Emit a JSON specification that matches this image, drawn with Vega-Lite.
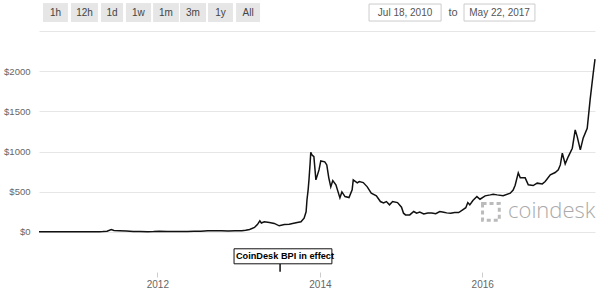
{
  "$schema": "https://vega.github.io/schema/vega-lite/v6.json",
  "width": 556,
  "height": 272,
  "autosize": "none",
  "padding": {"left": 39, "right": 4, "top": 0, "bottom": 21},
  "background": "white",
  "config": {"view": {"stroke": null}, "font": "Liberation Sans"},
  "datasets": {
    "price": [
      {"date": "2010-07-18", "price": 0.09},
      {"date": "2010-08-15", "price": 0.07},
      {"date": "2010-09-15", "price": 0.06},
      {"date": "2010-10-15", "price": 0.1},
      {"date": "2010-11-08", "price": 0.3},
      {"date": "2010-12-15", "price": 0.25},
      {"date": "2011-01-15", "price": 0.4},
      {"date": "2011-02-10", "price": 1.0},
      {"date": "2011-03-15", "price": 0.9},
      {"date": "2011-04-15", "price": 1.0},
      {"date": "2011-05-01", "price": 3.0},
      {"date": "2011-05-20", "price": 7},
      {"date": "2011-06-08", "price": 28},
      {"date": "2011-06-20", "price": 17},
      {"date": "2011-07-15", "price": 14},
      {"date": "2011-08-15", "price": 11},
      {"date": "2011-09-15", "price": 5},
      {"date": "2011-10-15", "price": 4},
      {"date": "2011-11-18", "price": 2.3},
      {"date": "2011-12-15", "price": 3.2},
      {"date": "2012-01-10", "price": 7},
      {"date": "2012-02-15", "price": 5},
      {"date": "2012-03-15", "price": 5},
      {"date": "2012-04-15", "price": 5},
      {"date": "2012-05-15", "price": 5},
      {"date": "2012-06-15", "price": 6.5},
      {"date": "2012-07-15", "price": 8.5},
      {"date": "2012-08-15", "price": 12},
      {"date": "2012-09-15", "price": 12},
      {"date": "2012-10-15", "price": 12},
      {"date": "2012-11-15", "price": 11},
      {"date": "2012-12-15", "price": 13.5},
      {"date": "2013-01-15", "price": 15},
      {"date": "2013-02-01", "price": 20},
      {"date": "2013-02-19", "price": 30},
      {"date": "2013-03-13", "price": 55},
      {"date": "2013-03-26", "price": 90},
      {"date": "2013-04-06", "price": 137},
      {"date": "2013-04-13", "price": 110},
      {"date": "2013-04-26", "price": 124},
      {"date": "2013-05-19", "price": 115},
      {"date": "2013-06-10", "price": 105},
      {"date": "2013-07-02", "price": 75},
      {"date": "2013-07-25", "price": 90},
      {"date": "2013-08-16", "price": 95},
      {"date": "2013-09-21", "price": 115},
      {"date": "2013-10-08", "price": 125},
      {"date": "2013-10-22", "price": 170},
      {"date": "2013-10-31", "price": 250},
      {"date": "2013-11-04", "price": 400},
      {"date": "2013-11-09", "price": 520},
      {"date": "2013-11-13", "price": 650},
      {"date": "2013-11-18", "price": 850},
      {"date": "2013-11-21", "price": 990},
      {"date": "2013-11-26", "price": 960},
      {"date": "2013-12-05", "price": 936},
      {"date": "2013-12-14", "price": 647},
      {"date": "2013-12-28", "price": 771},
      {"date": "2014-01-05", "price": 883},
      {"date": "2014-01-23", "price": 871},
      {"date": "2014-02-01", "price": 833},
      {"date": "2014-02-10", "price": 672},
      {"date": "2014-02-19", "price": 560},
      {"date": "2014-02-28", "price": 638},
      {"date": "2014-03-14", "price": 585},
      {"date": "2014-04-01", "price": 423},
      {"date": "2014-04-10", "price": 497},
      {"date": "2014-04-24", "price": 439},
      {"date": "2014-05-12", "price": 427},
      {"date": "2014-05-26", "price": 522},
      {"date": "2014-05-31", "price": 647},
      {"date": "2014-06-18", "price": 609},
      {"date": "2014-06-27", "price": 626},
      {"date": "2014-07-15", "price": 613},
      {"date": "2014-08-02", "price": 560},
      {"date": "2014-08-20", "price": 481},
      {"date": "2014-09-12", "price": 448},
      {"date": "2014-09-30", "price": 377},
      {"date": "2014-10-14", "price": 361},
      {"date": "2014-10-27", "price": 377},
      {"date": "2014-11-10", "price": 336},
      {"date": "2014-11-24", "price": 377},
      {"date": "2014-12-16", "price": 364},
      {"date": "2015-01-03", "price": 307},
      {"date": "2015-01-12", "price": 232},
      {"date": "2015-01-21", "price": 211},
      {"date": "2015-02-09", "price": 211},
      {"date": "2015-02-27", "price": 253},
      {"date": "2015-03-12", "price": 232},
      {"date": "2015-03-26", "price": 245},
      {"date": "2015-04-13", "price": 222},
      {"date": "2015-05-01", "price": 235},
      {"date": "2015-05-19", "price": 235},
      {"date": "2015-06-06", "price": 225},
      {"date": "2015-06-24", "price": 253},
      {"date": "2015-07-12", "price": 245},
      {"date": "2015-07-25", "price": 236},
      {"date": "2015-08-12", "price": 230},
      {"date": "2015-08-30", "price": 240},
      {"date": "2015-09-17", "price": 240},
      {"date": "2015-10-05", "price": 274},
      {"date": "2015-10-19", "price": 300},
      {"date": "2015-10-28", "price": 364},
      {"date": "2015-11-06", "price": 336},
      {"date": "2015-11-20", "price": 390},
      {"date": "2015-12-08", "price": 439},
      {"date": "2015-12-22", "price": 406},
      {"date": "2016-01-14", "price": 448},
      {"date": "2016-02-06", "price": 460},
      {"date": "2016-02-19", "price": 469},
      {"date": "2016-03-08", "price": 460},
      {"date": "2016-04-04", "price": 450},
      {"date": "2016-05-06", "price": 481},
      {"date": "2016-05-19", "price": 520},
      {"date": "2016-05-28", "price": 580},
      {"date": "2016-06-11", "price": 734},
      {"date": "2016-06-20", "price": 672},
      {"date": "2016-07-12", "price": 672},
      {"date": "2016-07-26", "price": 585},
      {"date": "2016-08-17", "price": 576},
      {"date": "2016-09-04", "price": 606},
      {"date": "2016-09-27", "price": 597},
      {"date": "2016-10-10", "price": 626},
      {"date": "2016-11-02", "price": 709},
      {"date": "2016-11-24", "price": 738},
      {"date": "2016-12-08", "price": 771},
      {"date": "2016-12-17", "price": 833},
      {"date": "2016-12-26", "price": 979},
      {"date": "2017-01-08", "price": 846},
      {"date": "2017-01-22", "price": 937},
      {"date": "2017-02-09", "price": 1041},
      {"date": "2017-02-22", "price": 1269},
      {"date": "2017-03-03", "price": 1185},
      {"date": "2017-03-17", "price": 1020},
      {"date": "2017-03-30", "price": 1169},
      {"date": "2017-04-17", "price": 1290},
      {"date": "2017-04-30", "price": 1642},
      {"date": "2017-05-14", "price": 1974},
      {"date": "2017-05-22", "price": 2150}
    ],
    "buttons": [
      {"label": "1h", "start": "2010-08-05", "end": "2010-11-25", "mid": "2010-09-30"},
      {"label": "12h", "start": "2010-12-09", "end": "2011-04-09", "mid": "2011-02-08"},
      {"label": "1d", "start": "2011-04-23", "end": "2011-07-31", "mid": "2011-06-11"},
      {"label": "1w", "start": "2011-08-13", "end": "2011-12-04", "mid": "2011-10-08"},
      {"label": "1m", "start": "2011-12-13", "end": "2012-04-07", "mid": "2012-02-09"},
      {"label": "3m", "start": "2012-04-12", "end": "2012-08-07", "mid": "2012-06-09"},
      {"label": "1y", "start": "2012-08-16", "end": "2012-12-06", "mid": "2012-10-11"},
      {"label": "All", "start": "2012-12-20", "end": "2013-04-07", "mid": "2013-02-12"}
    ],
    "inputs": [
      {"label": "Jul 18, 2010", "start": "2014-08-10", "end": "2015-06-30", "mid": "2015-01-19"},
      {"label": "May 22, 2017", "start": "2015-10-11", "end": "2016-08-25", "mid": "2016-03-19"}
    ],
    "words": [
      {"label": "to", "mid": "2015-08-23"}
    ],
    "flag": [
      {"label": "CoinDesk BPI in effect", "start": "2012-12-11", "end": "2014-02-24", "mid": "2013-07-28", "stem": "2013-07-06"}
    ],
    "brand": [
      {"label": "coindesk", "textStart": "2016-04-26", "icon": "2016-02-09"}
    ]
  },
  "layer": [
    {
      "data": {"name": "price"},
      "mark": {"type": "line", "color": "#111111", "strokeWidth": 1.5, "interpolate": "linear"},
      "encoding": {
        "x": {
          "field": "date", "type": "temporal",
          "scale": {"type": "utc", "domain": [{"year": 2010, "month": 7, "date": 18, "utc": true}, {"year": 2017, "month": 5, "date": 22, "utc": true}]},
          "axis": {
            "title": null, "domain": false, "grid": false, "format": "%Y",
            "values": [{"year": 2012, "month": 1, "date": 1, "utc": true}, {"year": 2014, "month": 1, "date": 1, "utc": true}, {"year": 2016, "month": 1, "date": 1, "utc": true}],
            "tickColor": "#cccccc", "tickSize": 5, "labelColor": "#666666", "labelFontSize": 10, "labelPadding": 2
          }
        },
        "y": {
          "field": "price", "type": "quantitative",
          "scale": {"domain": [-500, 2886], "nice": false, "zero": false},
          "axis": {
            "title": null, "domain": false, "ticks": false,
            "values": [0, 500, 1000, 1500, 2000, 2500],
            "labelExpr": "datum.value > 2000 ? '' : '$' + datum.value",
            "gridColor": "#e6e6e6", "labelColor": "#666666", "labelFontSize": 9.5, "labelPadding": 9
          }
        }
      }
    },
    {
      "data": {"name": "buttons"},
      "mark": {"type": "rect", "fill": "#e6e6e6"},
      "encoding": {
        "x": {"field": "start", "type": "temporal"},
        "x2": {"field": "end"},
        "y": {"datum": 2848, "type": "quantitative"},
        "y2": {"datum": 2612}
      }
    },
    {
      "data": {"name": "buttons"},
      "mark": {"type": "text", "fontSize": 10, "color": "#444444", "baseline": "middle", "align": "center"},
      "encoding": {
        "x": {"field": "mid", "type": "temporal"},
        "y": {"datum": 2724, "type": "quantitative"},
        "text": {"field": "label"}
      }
    },
    {
      "data": {"name": "inputs"},
      "mark": {"type": "rect", "fill": "white", "stroke": "#cccccc", "strokeWidth": 1},
      "encoding": {
        "x": {"field": "start", "type": "temporal"},
        "x2": {"field": "end"},
        "y": {"datum": 2836, "type": "quantitative"},
        "y2": {"datum": 2624}
      }
    },
    {
      "data": {"name": "inputs"},
      "mark": {"type": "text", "fontSize": 10, "color": "#555555", "baseline": "middle", "align": "center"},
      "encoding": {
        "x": {"field": "mid", "type": "temporal"},
        "y": {"datum": 2730, "type": "quantitative"},
        "text": {"field": "label"}
      }
    },
    {
      "data": {"name": "words"},
      "mark": {"type": "text", "fontSize": 11, "color": "#555555", "baseline": "middle", "align": "center"},
      "encoding": {
        "x": {"field": "mid", "type": "temporal"},
        "y": {"datum": 2730, "type": "quantitative"},
        "text": {"field": "label"}
      }
    },
    {
      "data": {"name": "flag"},
      "mark": {"type": "rule", "color": "#111111", "strokeWidth": 1.5},
      "encoding": {
        "x": {"field": "stem", "type": "temporal"},
        "y": {"datum": -398, "type": "quantitative"},
        "y2": {"datum": -497}
      }
    },
    {
      "data": {"name": "flag"},
      "mark": {"type": "rect", "fill": "white", "stroke": "#111111", "strokeWidth": 1},
      "encoding": {
        "x": {"field": "start", "type": "temporal"},
        "x2": {"field": "end"},
        "y": {"datum": -211, "type": "quantitative"},
        "y2": {"datum": -398}
      }
    },
    {
      "data": {"name": "flag"},
      "mark": {"type": "text", "fontSize": 9.2, "fontWeight": "bold", "font": "Liberation Sans", "color": "#000000", "baseline": "middle", "align": "center"},
      "encoding": {
        "x": {"field": "mid", "type": "temporal"},
        "y": {"datum": -305, "type": "quantitative"},
        "text": {"field": "label"}
      }
    },
    {
      "data": {"name": "brand"},
      "mark": {"type": "text", "fontSize": 22, "font": "Open Sans", "fontWeight": 300, "color": "#aaaaaa", "baseline": "middle", "align": "left"},
      "encoding": {
        "x": {"field": "textStart", "type": "temporal"},
        "y": {"datum": 255, "type": "quantitative"},
        "text": {"field": "label"}
      }
    },
    {
      "data": {"name": "brand"},
      "mark": {"type": "point", "shape": "square", "filled": false, "stroke": "#bbbbbb", "strokeWidth": 3, "strokeDash": [4, 3], "size": 280, "opacity": 1},
      "encoding": {
        "x": {"field": "icon", "type": "temporal"},
        "y": {"datum": 249, "type": "quantitative"}
      }
    }
  ]
}
